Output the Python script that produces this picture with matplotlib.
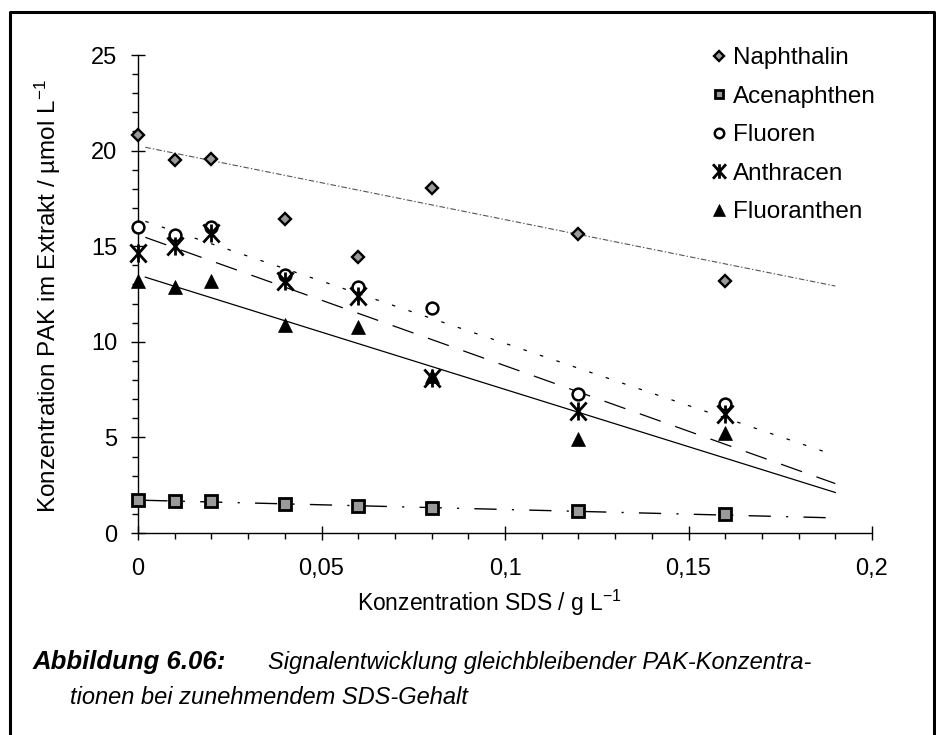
import matplotlib
matplotlib.use("Agg")
import matplotlib.pyplot as plt
import numpy as np
from matplotlib.path import Path
from matplotlib.lines import Line2D

plt.rcParams['font.family'] = ['Liberation Sans', 'DejaVu Sans']
plt.rcParams['mathtext.fontset'] = 'custom'
plt.rcParams['mathtext.rm'] = 'Liberation Sans'
plt.rcParams['mathtext.it'] = 'Liberation Sans:italic'
plt.rcParams['lines.scale_dashes'] = False

# data
sds = [0, 0.01, 0.02, 0.04, 0.06, 0.08, 0.12, 0.16]
naphthalin = [20.8, 19.5, 19.56, 16.4, 14.46, 18.06, 15.64, 13.19]
acenaphthen = [1.73, 1.66, 1.69, 1.52, 1.40, 1.33, 1.15, 1.0]
fluoren = [16.03, 15.59, 15.98, 13.5, 12.87, 11.79, 7.25, 6.76]
anthracen = [14.66, 15.02, 15.7, 13.19, 12.4, 8.09, 6.4, 6.2]
fluoranthen = [13.19, 12.84, 13.19, 10.9, 10.8, 8.2, 4.93, 5.22]

# trend lines (intercept, slope) as drawn in the original
trend_naph = (20.25, -38.6)
trend_acen = (1.72, -4.9)
trend_fluo = (16.43, -65.1)
trend_anth = (15.6, -68.5)
trend_flan = (13.5, -59.9)
trend_x = [0.002, 0.19]

xticks = [0, 0.05, 0.1, 0.15, 0.2]
xticklabels = ['0', '0,05', '0,1', '0,15', '0,2']
yticks = [0, 5, 10, 15, 20, 25]

fig = plt.figure(figsize=(9.36, 7.35), dpi=100)
ax = fig.add_axes([138/936, 1-533/735, (872-138)/936, (533-55)/735])

# asterisk marker: X plus vertical bar
star = Path([(0, -1), (0, 1), (-0.9, -1), (0.9, 1), (-0.9, 1), (0.9, -1)],
            [Path.MOVETO, Path.LINETO, Path.MOVETO, Path.LINETO, Path.MOVETO, Path.LINETO])

tx = np.array(trend_x)
ax.plot(tx, trend_naph[0] + trend_naph[1]*tx, color='#555555', lw=0.8, dashes=(4, 1.5, 1, 1.5))
ax.plot(tx, trend_acen[0] + trend_acen[1]*tx, color='black', lw=1.0, dashes=(16, 11, 1.5, 11))
ax.plot(tx, trend_fluo[0] + trend_fluo[1]*tx, color='black', lw=0.9, dashes=(2.5, 10))
ax.plot(tx, trend_anth[0] + trend_anth[1]*tx, color='black', lw=0.9, dashes=(16, 11))
ax.plot(tx, trend_flan[0] + trend_flan[1]*tx, color='black', lw=0.9)

st_naph = dict(marker='D', ms=6.5, mfc='#9a9a9a', mec='black', mew=1.7, ls='none')
st_acen = dict(marker='s', ms=8, mfc='#9a9a9a', mec='black', mew=2.0, ls='none')
st_fluo = dict(marker='o', ms=8.5, mfc='white', mec='black', mew=1.8, ls='none')
st_anth = dict(marker=star, ms=13, mfc='none', mec='black', mew=2.0, ls='none')
st_flan = dict(marker='^', ms=10, mfc='black', mec='black', mew=0.5, ls='none')

ax.plot(sds, fluoranthen, clip_on=False, zorder=3, **st_flan)
ax.plot(sds, naphthalin, clip_on=False, zorder=3, **st_naph)
ax.plot(sds, acenaphthen, clip_on=False, zorder=3, **st_acen)
ax.plot(sds, fluoren, clip_on=False, zorder=3, **st_fluo)
ax.plot(sds, anthracen, clip_on=False, zorder=4, **st_anth)

ax.set_xlim(0, 0.2)
ax.set_ylim(0, 25)
ax.spines['right'].set_visible(False)
ax.spines['top'].set_visible(False)
ax.spines['left'].set_linewidth(1.0)
ax.spines['bottom'].set_linewidth(1.0)

ax.set_xticks(xticks)
ax.set_xticklabels(xticklabels)
ax.set_xticks(np.arange(0, 0.2001, 0.01), minor=True)
ax.set_yticks(yticks)
ax.set_yticks(np.arange(0, 25.01, 1), minor=True)
ax.tick_params(axis='both', which='major', direction='inout', width=1.0, labelsize=17)
ax.tick_params(axis='x', which='major', length=10.5, pad=13)
ax.tick_params(axis='y', which='major', length=9.5, pad=10)
ax.tick_params(axis='both', which='minor', direction='out', width=1.0)
ax.tick_params(axis='x', which='minor', length=4.3)
ax.tick_params(axis='y', which='minor', length=4.5)

fig.text(490/936, 1-603/735, 'Konzentration SDS / g L$^{-1}$', fontsize=16.5,
         ha='center', va='center')
fig.text(48/936, 1-296/735, 'Konzentration PAK im Extrakt / µmol L$^{-1}$', fontsize=17.5,
         ha='center', va='center', rotation=90)

handles = [Line2D([], [], **st_naph), Line2D([], [], **st_acen), Line2D([], [], **st_fluo),
           Line2D([], [], **st_anth), Line2D([], [], **st_flan)]
labels = ['Naphthalin', 'Acenaphthen', 'Fluoren', 'Anthracen', 'Fluoranthen']
leg = ax.legend(handles, labels, loc='upper left', bbox_to_anchor=(698/936, 1-35/735),
                bbox_transform=fig.transFigure, frameon=False, fontsize=17.5,
                handlelength=0.7, handletextpad=0.25, labelspacing=0.68, borderpad=0)
for h in leg.legend_handles:
    h.set_markersize(h.get_markersize()*0.8)

fig.text(33/936, 1-662/735, 'Abbildung 6.06:', fontsize=18.5, fontweight='bold',
         style='italic', ha='left', va='center')
fig.text(268/936, 1-662/735, 'Signalentwicklung gleichbleibender PAK-Konzentra-', fontsize=17,
         style='italic', ha='left', va='center')
fig.text(70/936, 1-698/735, 'tionen bei zunehmendem SDS-Gehalt', fontsize=17,
         style='italic', ha='left', va='center')

# frame around the figure (left, top, right)
fig.add_artist(Line2D([10/936, 10/936, 934/936, 934/936], [0, 1-12/735, 1-12/735, 0],
                      color='black', lw=2.2, transform=fig.transFigure))

fig.savefig('out.png', dpi=100)
